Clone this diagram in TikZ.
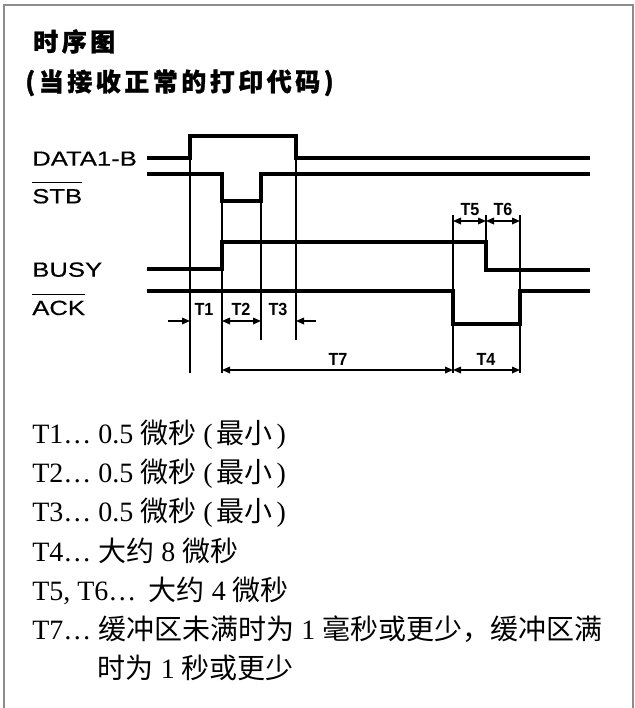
\documentclass[tikz,border=0pt]{standalone}
\usepackage{fontspec}
\setmainfont{Liberation Serif}
\newfontfamily\cjk{Noto Sans CJK SC}
\newfontfamily\titlefont[LetterSpace=14, BoldFeatures={FakeBold=1.2}]{Noto Sans CJK SC}
\newfontfamily\sigfont[FakeStretch=1.25, FakeBold=0.4]{Liberation Sans}
\newfontfamily\tlabfont[FakeStretch=0.92]{Liberation Sans}
\usetikzlibrary{arrows.meta}
\tikzset{
  frame/.style={draw=black!45, line width=0.8pt},
  sigline/.style={line width=2.6pt, line join=miter},
  thinline/.style={line width=0.9pt},
  dimone/.style={line width=0.9pt, -{Triangle[length=6pt,width=5pt]}},
  dimtwo/.style={line width=0.9pt, {Triangle[length=6pt,width=5pt]}-{Triangle[length=6pt,width=5pt]}},
  ovl/.style={line width=0.9pt},
  siglabel/.style={inner sep=0pt, anchor=base west, font=\sigfont\fontsize{15.4}{18}\selectfont},
  tlabel/.style={inner sep=0pt, anchor=base, font=\tlabfont\bfseries\fontsize{13.2}{15}\selectfont},
  titletext/.style={inner sep=0pt, anchor=base west, font=\titlefont\bfseries\fontsize{18.75}{22}\selectfont},
  bodytext/.style={inner sep=0pt, anchor=base west, font=\fontsize{21}{25}\selectfont}
}
\newcommand{\paren}[1]{(\hspace{3pt}{\cjk #1}\hspace{3pt})}
\begin{document}
\begin{tikzpicture}[x=0.75pt,y=-0.75pt]
\useasboundingbox (0,0) rectangle (635,708);
\fill[white] (0,0) rectangle (635,708);
\draw[frame] (4,5) rectangle (633,730);

% titles
\node[titletext] (title1) at (33,51) {时序图};
\node[titletext] (title2) at (25,91) {(当接收正常的打印代码)};

% signal labels
\node[siglabel] (data) at (32,165.7) {DATA1-B};
\node[siglabel] (stb) at (32,203.3) {STB};
\node[siglabel] (busy) at (32,276.7) {BUSY};
\node[siglabel] (ack) at (32,315) {ACK};
\draw[ovl] ([yshift=4.5pt]stb.north west) -- ([yshift=4.5pt]stb.north east);
\draw[ovl] ([yshift=4.5pt]ack.north west) -- ([yshift=4.5pt]ack.north east);

% thin guide lines
\draw[thinline] (190,158) -- (190,373);
\draw[thinline] (222,201) -- (222,373);
\draw[thinline] (261,201) -- (261,340);
\draw[thinline] (296,158) -- (296,340);
\draw[thinline] (453,215) -- (453,373);
\draw[thinline] (486,215) -- (486,242);
\draw[thinline] (520,215) -- (520,373);

% signals
\draw[sigline] (147,158) -- (190,158) -- (190,136) -- (296,136) -- (296,158) -- (590,158);
\draw[sigline] (147,174) -- (222,174) -- (222,201) -- (261,201) -- (261,174) -- (590,174);
\draw[sigline] (147,269) -- (222,269) -- (222,242) -- (486,242) -- (486,270) -- (590,270);
\draw[sigline] (147,291) -- (453,291) -- (453,324) -- (520,324) -- (520,291) -- (590,291);

% dimension arrows
\coordinate (a1) at (168,321);
\coordinate (a1e) at (190,321);
\coordinate (a2s) at (222,321);
\coordinate (a2e) at (261,321);
\coordinate (a3) at (316,321);
\coordinate (a3e) at (296,321);
\coordinate (a7s) at (222,370);
\coordinate (a7e) at (453,370);
\coordinate (a4e) at (520,370);
\coordinate (a5s) at (453,221);
\coordinate (a5e) at (486,221);
\coordinate (a6e) at (520,221);
\draw[dimone] (a1) -- (a1e);
\draw[dimtwo] (a2s) -- (a2e);
\draw[dimone] (a3) -- (a3e);
\draw[dimtwo] (a7s) -- (a7e);
\draw[dimtwo] (a7e) -- (a4e);
\draw[dimtwo] (a5s) -- (a5e);
\draw[dimtwo] (a5e) -- (a6e);

\node[tlabel] (t1) at (204,315) {T1};
\node[tlabel] (t2) at (241,315) {T2};
\node[tlabel] (t3) at (278,315) {T3};
\node[tlabel] (t7) at (338,365) {T7};
\node[tlabel] (t4) at (486,365) {T4};
\node[tlabel] (t5) at (470,215.5) {T5};
\node[tlabel] (t6) at (503,215.5) {T6};

% notes
\node[bodytext] (n1) at (32,443) {T1… 0.5 {\cjk 微秒} \paren{最小}};
\node[bodytext] (n2) at (32,482.5) {T2… 0.5 {\cjk 微秒} \paren{最小}};
\node[bodytext] (n3) at (32,521.5) {T3… 0.5 {\cjk 微秒} \paren{最小}};
\node[bodytext] (n4) at (32,561) {T4… {\cjk 大约} 8 {\cjk 微秒}};
\node[bodytext] (n5) at (32,600.5) {T5, T6…\hspace{4pt} {\cjk 大约} 4 {\cjk 微秒}};
\node[bodytext] (n6) at (32,639) {T7… {\cjk 缓冲区未满时为} 1 {\cjk 毫秒或更少，缓冲区满}};
\node[bodytext] (n7) at (97.5,678) {{\cjk 时为} 1 {\cjk 秒或更少}};
\end{tikzpicture}
\end{document}
